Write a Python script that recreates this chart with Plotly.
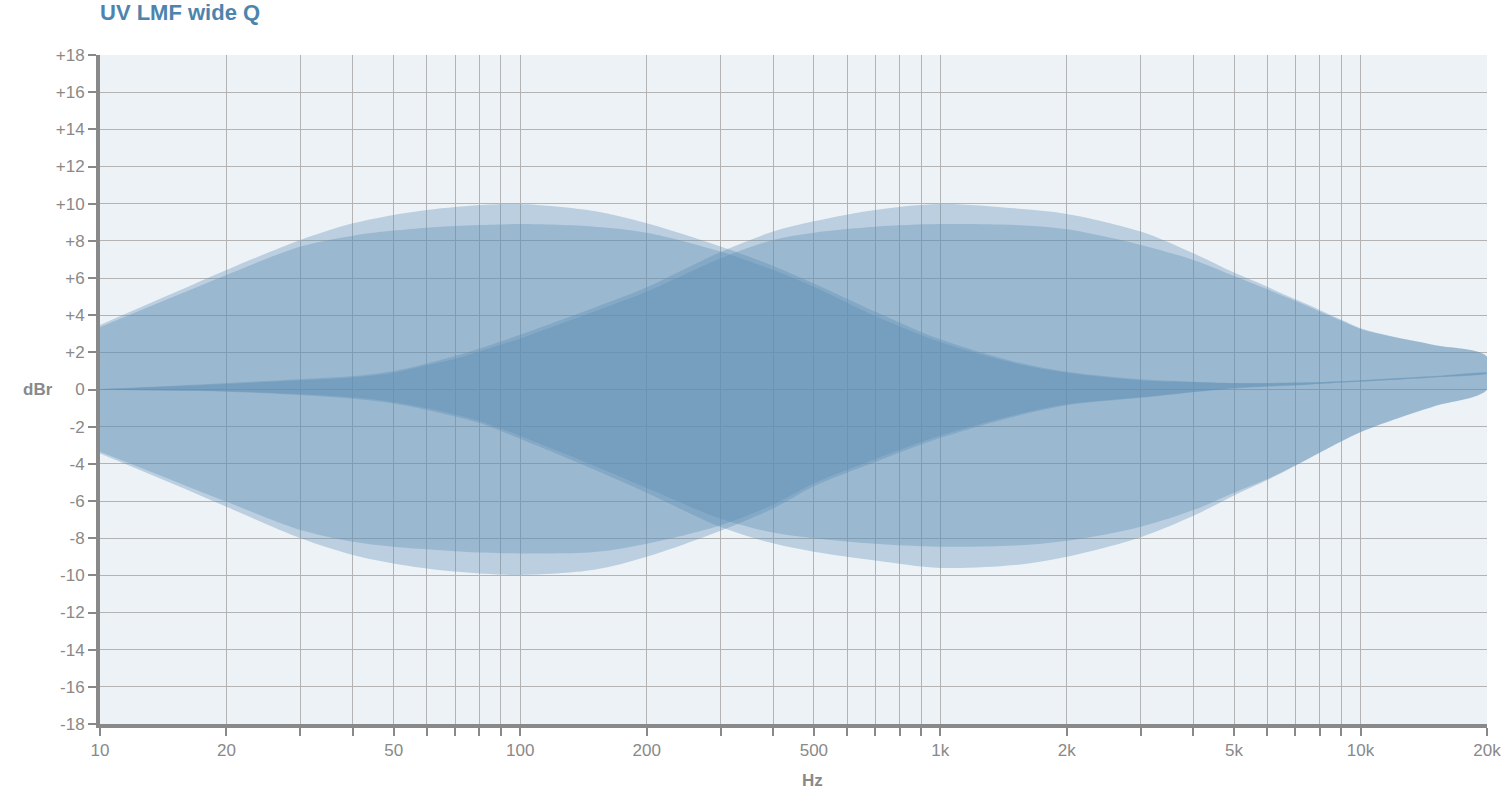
import plotly.graph_objects as go

# Frequencies (Hz)
freq = [10, 15, 20, 30, 40, 50, 60, 70, 80, 100, 150, 200, 300, 400, 500, 700,
        1000, 1500, 2000, 3000, 4000, 5000, 6000, 7000, 8000, 9000, 10000, 12000, 15000, 20000]

# LMF at 100 Hz - outer (boost / cut)
lf_outer_up = [3.47, 5.2, 6.43, 8.05, 8.94, 9.39, 9.66, 9.82, 9.93, 9.98, 9.6, 8.94, 7.69, 6.65, 5.71, 4.19,
               2.7, 1.5, 0.96, 0.55, 0.42, 0.35, 0.35, 0.37, 0.4, 0.45, 0.5, 0.6, 0.72, 0.9]
lf_outer_dn = [-3.44, -5.1, -6.31, -8.0, -8.9, -9.36, -9.63, -9.8, -9.9, -9.98, -9.7, -9.0, -7.6, -6.4, -5.2, -3.9,
               -2.6, -1.46, -0.85, -0.45, -0.15, 0.05, 0.15, 0.22, 0.3, 0.37, 0.42, 0.52, 0.65, 0.85]
# LMF at 100 Hz - inner
lf_inner_up = [3.35, 5.0, 6.16, 7.69, 8.28, 8.55, 8.71, 8.8, 8.85, 8.9, 8.76, 8.44, 7.42, 6.43, 5.53, 3.95,
               2.55, 1.42, 0.9, 0.5, 0.4, 0.33, 0.33, 0.36, 0.39, 0.44, 0.49, 0.59, 0.71, 0.89]
lf_inner_dn = [-3.35, -4.92, -6.04, -7.56, -8.19, -8.46, -8.6, -8.7, -8.77, -8.82, -8.75, -8.3, -7.3, -6.2, -5.05, -3.75,
               -2.48, -1.38, -0.8, -0.42, -0.13, 0.07, 0.17, 0.24, 0.31, 0.38, 0.43, 0.53, 0.66, 0.86]

# LMF at 1 kHz - outer
hf_outer_up = [0.03, 0.2, 0.35, 0.55, 0.72, 1.0, 1.4, 1.8, 2.2, 2.95, 4.4, 5.5, 7.4, 8.5, 9.05, 9.66,
               9.98, 9.75, 9.45, 8.5, 7.33, 6.29, 5.53, 4.85, 4.28, 3.75, 3.3, 2.84, 2.4, 1.77]
hf_outer_dn = [-0.02, -0.07, -0.12, -0.3, -0.5, -0.75, -1.1, -1.45, -1.8, -2.65, -4.3, -5.55, -7.4, -8.28, -8.73, -9.2,
               -9.6, -9.45, -9.0, -7.95, -6.8, -5.7, -4.87, -4.1, -3.4, -2.8, -2.3, -1.63, -0.9, 0.0]
# LMF at 1 kHz - inner
hf_inner_up = [0.02, 0.17, 0.3, 0.5, 0.65, 0.9, 1.3, 1.65, 2.05, 2.75, 4.2, 5.26, 7.06, 8.05, 8.44, 8.76,
               8.9, 8.85, 8.62, 7.78, 6.97, 6.11, 5.39, 4.76, 4.19, 3.7, 3.26, 2.82, 2.38, 1.76]
hf_inner_dn = [0.0, -0.05, -0.1, -0.25, -0.42, -0.68, -1.0, -1.35, -1.7, -2.5, -4.1, -5.3, -6.95, -7.7, -8.0, -8.3,
               -8.46, -8.4, -8.14, -7.38, -6.49, -5.55, -4.82, -4.08, -3.39, -2.79, -2.29, -1.62, -0.89, 0.0]

bands = [
    ("100 Hz outer", lf_outer_up, lf_outer_dn),
    ("100 Hz inner", lf_inner_up, lf_inner_dn),
    ("1 kHz outer", hf_outer_up, hf_outer_dn),
    ("1 kHz inner", hf_inner_up, hf_inner_dn),
]

# Axis ticks
x_tickvals = [10, 20, 30, 40, 50, 60, 70, 80, 90,
              100, 200, 300, 400, 500, 600, 700, 800, 900,
              1000, 2000, 3000, 4000, 5000, 6000, 7000, 8000, 9000,
              10000, 20000]
x_ticktext = ["10", "20", "", "", "50", "", "", "", "",
              "100", "200", "", "", "500", "", "", "", "",
              "1k", "2k", "", "", "5k", "", "", "", "",
              "10k", "20k"]
y_tickvals = list(range(-18, 19, 2))
y_ticktext = [("+%d" % v if v > 0 else "%d" % v) for v in y_tickvals]

fill_col = "rgba(90,140,180,0.34)"
grey = "#898989"

fig = go.Figure()
for name, up, dn in bands:
    fig.add_trace(go.Scatter(
        x=freq + freq[::-1],
        y=up + dn[::-1],
        mode="lines",
        line=dict(width=0, shape="spline", smoothing=0.9),
        fill="toself",
        fillcolor=fill_col,
        name=name,
        hoverinfo="skip",
        showlegend=False,
    ))

font_family = "Liberation Sans, Arial, sans-serif"

W, H = 1508, 808
ML, MR, MT, MB = 100, 21, 55, 84
plot_w = W - ML - MR
plot_h = H - MT - MB

fig.update_layout(
    width=W, height=H,
    margin=dict(l=ML, r=MR, t=MT, b=MB, autoexpand=False),
    paper_bgcolor="white",
    plot_bgcolor="#edf2f7",
    font=dict(family=font_family, color=grey, size=17),
    title=dict(text="<b>UV LMF wide Q</b>", x=0, xref="paper", xanchor="left",
               y=1 - 12 / H, yref="container", yanchor="middle",
               font=dict(size=22, color="#4d84ae", family=font_family)),
    showlegend=False,
    annotations=[
        dict(text="<b>dBr</b>", x=(38 - ML) / plot_w, xref="paper", y=0, yref="y",
             showarrow=False, font=dict(size=17, color=grey),
             xanchor="center", yanchor="middle"),
        dict(text="<b>Hz</b>", x=(812 - ML) / plot_w, xref="paper",
             y=(H - MB - 780) / plot_h, yref="paper",
             showarrow=False, font=dict(size=17, color=grey),
             xanchor="center", yanchor="middle"),
    ],
)

fig.update_xaxes(
    type="log", range=[1, 4.30103],
    tickvals=x_tickvals, ticktext=x_ticktext,
    ticks="outside", ticklen=8, tickwidth=2, tickcolor=grey,
    showline=True, linewidth=4, linecolor=grey,
    showgrid=True, gridcolor="#b3b3b3", gridwidth=1,
    zeroline=False, automargin=False,
    tickfont=dict(size=17, color=grey),
)
fig.update_yaxes(
    range=[-18, 18],
    tickvals=y_tickvals, ticktext=y_ticktext,
    ticks="outside", ticklen=8, tickwidth=2, tickcolor=grey,
    showline=True, linewidth=4, linecolor=grey,
    showgrid=True, gridcolor="#b3b3b3", gridwidth=1,
    zeroline=False, automargin=False,
    tickfont=dict(size=17, color=grey),
)

fig.write_html("out.html",
               config={"displayModeBar": False},
               post_script="document.body.style.margin='0';document.body.style.overflow='hidden';")
